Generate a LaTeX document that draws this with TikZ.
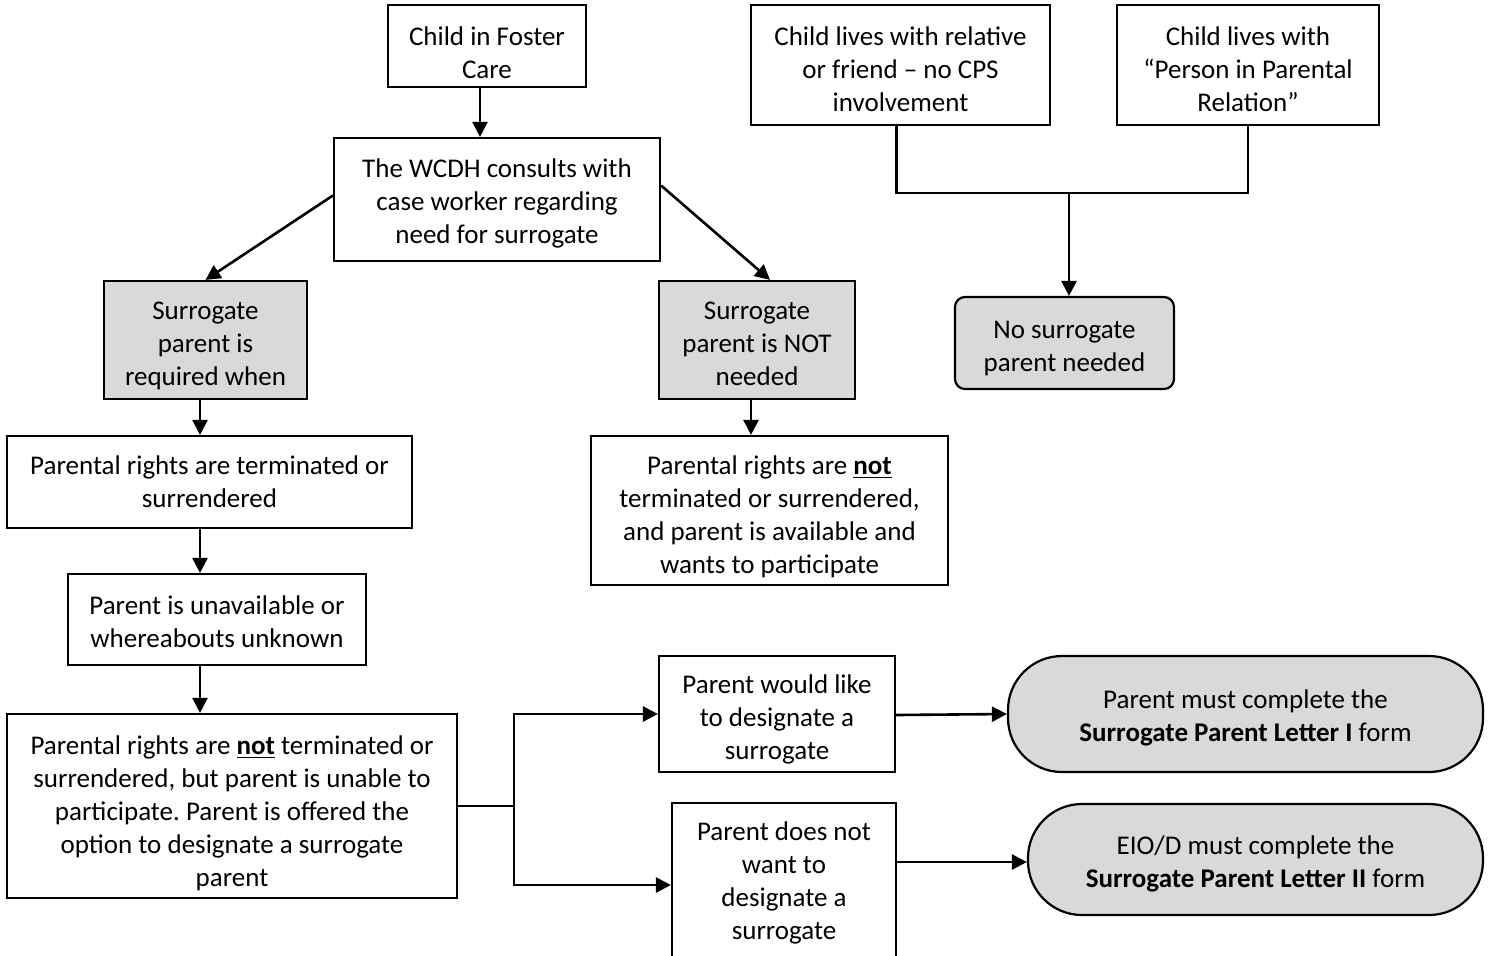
\documentclass[tikz,border=0pt]{standalone}
\usepackage{fontspec}
\setmainfont{Carlito}
\usetikzlibrary{arrows.meta,calc}
\definecolor{boxgray}{HTML}{D9D9D9}
\frenchspacing
\newcommand\lowr[1]{\rule{0pt}{#1}}
\tikzset{
  base/.style={draw, line width=1.1pt, align=center, inner sep=0pt, font=\fontsize{13.5pt}{16.5pt}\selectfont},
  wbox/.style={base, fill=white},
  gbox/.style={base, fill=boxgray},
  rbox/.style={base, fill=boxgray, rounded corners=5pt},
  pill/.style={base, fill=boxgray, rounded corners=27pt},
  arr/.style={line width=1.3pt, -{Triangle[length=7.5pt,width=7.5pt]}},
  ln/.style={line width=1.3pt}
}
\begin{document}
\begin{tikzpicture}[x=0.5pt,y=-0.5pt]
\useasboundingbox (0,0) rectangle (1489,955);
\node[wbox, minimum width=99pt, minimum height=41pt] (foster) at (487,46) {\lowr{16.5pt}Child in Foster\\Care};
\node[wbox, minimum width=163pt, minimum height=61.5pt] (wcdh) at (497,199.5) {\lowr{13pt}The WCDH consults with\\case worker regarding\\need for surrogate};
\node[wbox, minimum width=149.5pt, minimum height=60pt] (rel) at (900.5,65) {\lowr{14pt}Child lives with relative\\or friend -- no CPS\\involvement};
\node[wbox, minimum width=131pt, minimum height=60pt] (ppr) at (1248,65) {\lowr{14pt}Child lives with\\``Person in Parental\\Relation''};
\node[rbox, minimum width=109.5pt, minimum height=46pt] (nosur) at (1064.5,343) {\lowr{14.5pt}No surrogate\\parent needed};
\node[gbox, minimum width=101.5pt, minimum height=59pt] (req) at (205.5,340) {\lowr{14.5pt}Surrogate\\parent is\\required when};
\node[gbox, minimum width=98pt, minimum height=59pt] (notneed) at (757,340) {\lowr{13pt}Surrogate\\parent is NOT\\needed};
\node[wbox, minimum width=202.5pt, minimum height=46pt] (term) at (209.5,482) {Parental rights are terminated or\\surrendered};
\node[wbox, minimum width=178.5pt, minimum height=74.5pt] (avail) at (769.5,510.5) {\lowr{15.5pt}Parental rights are \textbf{\underline{not}}\\terminated or surrendered,\\and parent is available and\\wants to participate};
\node[wbox, minimum width=149pt, minimum height=45.5pt] (unavail) at (217,619.5) {\lowr{12pt}Parent is unavailable or\\whereabouts unknown};
\node[wbox, minimum width=225pt, minimum height=92pt] (notterm) at (232,806) {\lowr{16.5pt}Parental rights are \textbf{\underline{not}} terminated or\\surrendered, but parent is unable to\\participate. Parent is offered the\\option to designate a surrogate\\parent};
\node[wbox, minimum width=118pt, minimum height=58pt] (like) at (777,714) {\lowr{14.5pt}Parent would like\\to designate a\\surrogate};
\node[wbox, minimum width=112pt, minimum height=77pt] (dont) at (784,880) {\lowr{12pt}Parent does not\\want to\\designate a\\surrogate};
\node[pill, minimum width=237.5pt, minimum height=58pt] (let1) at (1245.5,714) {\lowr{13pt}Parent must complete the\\\textbf{Surrogate Parent Letter I} form};
\node[pill, minimum width=227.5pt, minimum height=55.5pt] (let2) at (1255.5,859.5) {\lowr{14pt}EIO/D must complete the\\\textbf{Surrogate Parent Letter II} form};
% connectors
\draw[arr] ([xshift=-3.5pt]foster.south) -- ([xshift=-3.5pt]foster.south |- wcdh.north);
\draw[arr] ([yshift=2pt]wcdh.west) -- (req.north);
\draw[arr] ([yshift=7pt]wcdh.east) -- ([xshift=6.5pt]notneed.north);
\coordinate (j) at (1069,193);
\draw[ln] ([xshift=-2pt]rel.south) |- (j) -| (ppr.south);
\draw[arr] (j) -- (j |- nosur.north);
\draw[arr] ([xshift=-2.75pt]req.south) -- ([xshift=-2.75pt]req.south |- term.north);
\draw[arr] ([xshift=-3pt]notneed.south) -- ([xshift=-3pt]notneed.south |- avail.north);
\draw[arr] ([xshift=-4.75pt]term.south) -- ([xshift=-4.75pt]term.south |- unavail.north);
\draw[arr] ([xshift=-8.5pt]unavail.south) -- ([xshift=-8.5pt]unavail.south |- notterm.north);
\coordinate (s) at (514,806);
\draw[ln] (notterm.east) -- (s);
\draw[arr] (s) |- (like.west);
\draw[arr] (s) |- ([yshift=-2.5pt]dont.west);
\draw[arr] ([yshift=-0.5pt]like.east) -- (let1.west);
\draw[arr] ([yshift=9pt]dont.east) -- ([yshift=9pt]dont.east -| let2.west);
\end{tikzpicture}
\end{document}
